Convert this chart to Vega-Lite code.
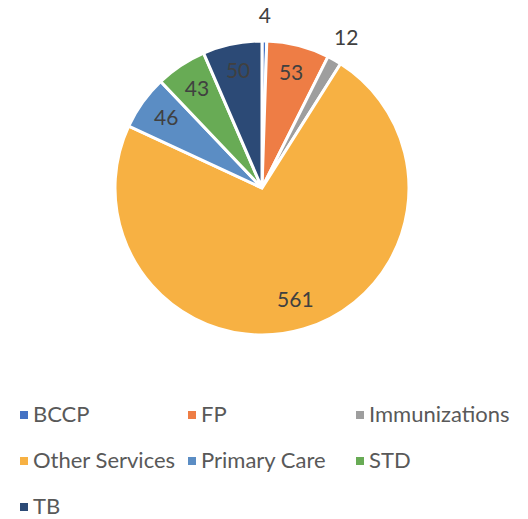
{
  "$schema": "https://vega.github.io/schema/vega-lite/v6.json",
  "width": 524,
  "height": 376,
  "padding": 0,
  "background": "white",
  "config": {"view": {"stroke": null}},
  "data": {
    "values": [
      {"category": "BCCP", "value": 4, "pos": "outside"},
      {"category": "FP", "value": 53, "pos": "inside"},
      {"category": "Immunizations", "value": 12, "pos": "outside"},
      {"category": "Other Services", "value": 561, "pos": "inside"},
      {"category": "Primary Care", "value": 46, "pos": "inside"},
      {"category": "STD", "value": 43, "pos": "inside"},
      {"category": "TB", "value": 50, "pos": "inside"}
    ]
  },
  "encoding": {
    "theta": {"field": "value", "type": "quantitative", "stack": true},
    "order": {"field": "category", "type": "nominal", "sort": "ascending"}
  },
  "layer": [
    {
      "mark": {"type": "arc", "outerRadius": 147, "stroke": "white", "strokeWidth": 3},
      "encoding": {
        "color": {
          "field": "category",
          "type": "nominal",
          "scale": {
            "domain": ["BCCP", "FP", "Immunizations", "Other Services", "Primary Care", "STD", "TB"],
            "range": ["#4472C4", "#EE7D45", "#9E9E9E", "#F7B143", "#5B8DC4", "#68AB55", "#2C4A76"]
          },
          "legend": {
            "title": null,
            "orient": "none",
            "direction": "horizontal",
            "legendX": 13,
            "legendY": 404,
            "columns": 3,
            "gridAlign": "all",
            "columnPadding": 5,
            "rowPadding": 24,
            "symbolType": "square",
            "symbolSize": 64,
            "symbolStrokeWidth": 0,
            "labelFont": "Lato",
            "labelFontSize": 22,
            "labelColor": "#595959",
            "labelOffset": -2,
            "labelLimit": 300
          }
        }
      }
    },
    {
      "mark": {"type": "text", "radius": 118, "font": "Lato", "fontSize": 21, "color": "#404040"},
      "encoding": {
        "text": {"condition": {"test": "datum.pos === 'inside'", "field": "value", "type": "quantitative"}, "value": ""}
      }
    },
    {
      "mark": {"type": "text", "radius": 171, "font": "Lato", "fontSize": 21, "color": "#404040"},
      "encoding": {
        "text": {"condition": {"test": "datum.pos === 'outside'", "field": "value", "type": "quantitative"}, "value": ""}
      }
    }
  ]
}
